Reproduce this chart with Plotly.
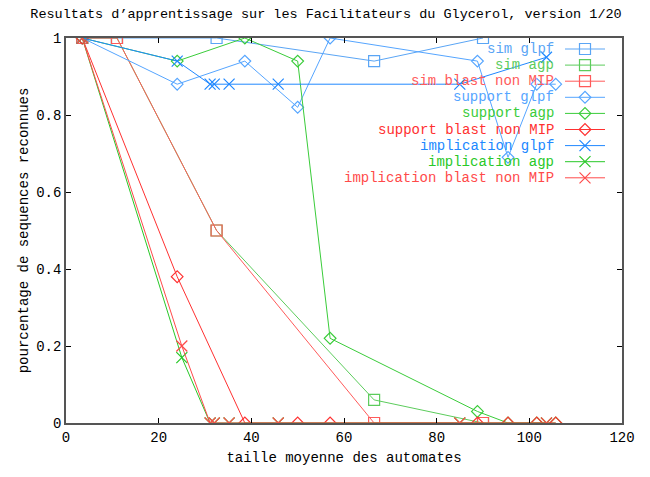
import plotly.graph_objects as go

# ---- data ----
sim_x = [3.5, 11, 32.5, 66.5, 90]
sim_glpf = [1, 1, 1, 0.94, 1]
sim_agp = [1, 1, 0.5, 0.06, 0]
sim_blast = [1, 1, 0.5, 0, 0]

sup_x = [3.5, 24, 38.6, 50, 57, 88.8, 95.4, 101.6, 105.7]
sup_glpf = [1, 0.88, 0.94, 0.82, 1, 0.94, 0.69, 0.88, 0.88]
sup_agp = [1, 0.94, 1, 0.94, 0.22, 0.03, 0, 0, 0]
sup_blast = [1, 0.38, 0, 0, 0, 0, 0, 0, 0]

imp_glpf_x = [3.5, 24, 31.1, 32, 35.2, 45.8, 85, 103.7]
imp_x = [3.5, 25, 31.1, 32, 35.2, 45.8, 85, 103.7]
imp_glpf = [1, 0.94, 0.88, 0.88, 0.88, 0.88, 0.88, 0.95]
imp_agp = [1, 0.17, 0, 0, 0, 0, 0, 0]
imp_blast = [1, 0.2, 0, 0, 0, 0, 0, 0]

names = ["sim glpf", "sim agp", "sim blast non MIP",
         "support glpf", "support agp", "support blast non MIP",
         "implication glpf", "implication agp", "implication blast non MIP"]
xs = [sim_x, sim_x, sim_x, sup_x, sup_x, sup_x, imp_glpf_x, imp_x, imp_x]
ys = [sim_glpf, sim_agp, sim_blast, sup_glpf, sup_agp, sup_blast, imp_glpf, imp_agp, imp_blast]
colors = ["#5aa5f5", "#5ccc5c", "#ff5a5a",
          "#55a5ff", "#3acc3a", "#ff3030",
          "#2088ff", "#28c828", "#ff4a4a"]
symbols = ["square-open"] * 3 + ["diamond-open"] * 3 + ["x-thin-open"] * 3
msizes = [11] * 3 + [9] * 3 + [11] * 3

FONT = "Liberation Mono"
OFF = 8  # page body offset

fig = go.Figure()
for n, x, y, c, s, ms in zip(names, xs, ys, colors, symbols, msizes):
    fig.add_trace(go.Scatter(
        x=x, y=y, mode="lines+markers", name=n, showlegend=False,
        line=dict(color=c, width=1),
        marker=dict(symbol=s, size=ms, color=c, line=dict(color=c, width=1.2)),
    ))

# ---- custom legend (gnuplot style: text, then sample on the right) ----
L, R, T, B = 66, 622, 38, 423   # plot area in page pixels
W, H = R - L, B - T
row0, dy = 49, 16.1
annotations = []
for i, (n, c, s, ms) in enumerate(zip(names, colors, symbols, msizes)):
    py = row0 + i * dy
    yp = (B - py) / H
    xa = (565 - L) / W
    xb = (605 - L) / W
    xm = (585 - L) / W
    fig.add_trace(go.Scatter(
        x=[xa, xb], y=[yp, yp], mode="lines", xaxis="x2", yaxis="y2",
        showlegend=False, hoverinfo="skip", line=dict(color=c, width=1)))
    fig.add_trace(go.Scatter(
        x=[xm], y=[yp], mode="markers", xaxis="x2", yaxis="y2",
        showlegend=False, hoverinfo="skip",
        marker=dict(symbol=s, size=ms, color=c, line=dict(color=c, width=1.2))))
    annotations.append(dict(
        x=(556 - L) / W, y=yp, xref="paper", yref="paper", text=n,
        showarrow=False, xanchor="right", yanchor="middle",
        font=dict(family=FONT, size=14, color=c)))

fig.update_layout(
    width=650, height=477,
    margin=dict(l=L - OFF, r=650 - R + OFF, t=T - OFF, b=477 - B + OFF),
    paper_bgcolor="white", plot_bgcolor="white",
    font=dict(family=FONT, size=14, color="black"),
    title=dict(text="Resultats d’apprentissage sur les Facilitateurs du Glycerol, version 1/20",
               x=(326 - OFF) / 650, xref="container", y=1 - (13 - OFF) / 477, yref="container",
               xanchor="center", yanchor="middle",
               font=dict(family=FONT, size=13.5, color="black")),
    xaxis=dict(range=[0, 120], tickvals=[0, 20, 40, 60, 80, 100, 120],
               ticks="inside", ticklen=5, tickcolor="black", mirror="ticks",
               showline=True, linecolor="#555555", linewidth=1.5,
               showgrid=False, zeroline=False,
               title=dict(text="taille moyenne des automates", standoff=8,
                          font=dict(family=FONT, size=14))),
    yaxis=dict(range=[0, 1], tickvals=[0, 0.2, 0.4, 0.6, 0.8, 1],
               ticktext=["0", "0.2", "0.4", "0.6", "0.8", "1"],
               ticks="inside", ticklen=5, tickcolor="black", mirror="ticks",
               showline=True, linecolor="#555555", linewidth=1.5,
               showgrid=False, zeroline=False,
               title=dict(text="pourcentage de sequences reconnues", standoff=4,
                          font=dict(family=FONT, size=14))),
    xaxis2=dict(range=[0, 1], overlaying="x", visible=False, fixedrange=True),
    yaxis2=dict(range=[0, 1], overlaying="y", visible=False, fixedrange=True),
    annotations=annotations,
)

fig.write_html("out.html")
